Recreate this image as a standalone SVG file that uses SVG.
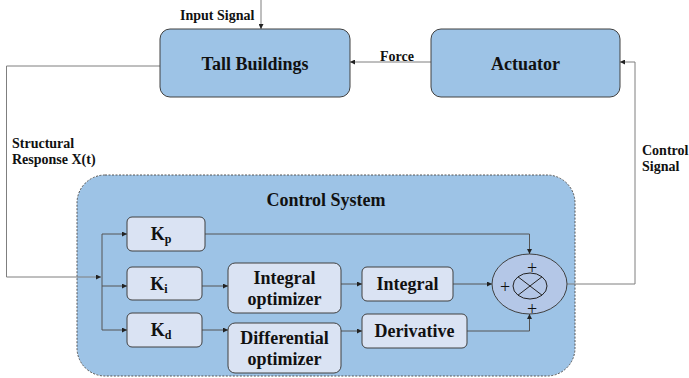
<svg xmlns="http://www.w3.org/2000/svg" width="689" height="378" viewBox="0 0 689 378">
<defs>
<marker id="ah" viewBox="0 0 6 6" refX="6" refY="3" markerWidth="5" markerHeight="5" orient="auto" markerUnits="userSpaceOnUse">
<path d="M0,0 L6,3 L0,6 z" fill="#222"/>
</marker>
<style>
text{fill:#111}
.outer{fill:#9dc3e6;stroke:#404040;stroke-width:1}
.inner{fill:#dae3f3;stroke:#404040;stroke-width:1}
.sys{fill:#9dc3e6;stroke:#555;stroke-width:1;stroke-dasharray:2 1.5}
.c{fill:none;stroke:#7f7f7f;stroke-width:1}
.ci{fill:none;stroke:#555;stroke-width:1}
</style>
</defs>
<rect width="689" height="378" fill="#fff"/>

<g id="control-system">
<rect class="sys" x="77" y="175" width="498" height="201" rx="28"/>
<text font-family="Liberation Serif, serif" font-weight="bold" font-size="18" x="326" y="206" text-anchor="middle">Control System</text>
</g>

<g id="connectors">
<path class="c" d="M261,0 V29" marker-end="url(#ah)"/>
<path class="c" d="M431,62 H350" marker-end="url(#ah)"/>
<path class="c" d="M160,66 H6.5 V277 H101" marker-end="url(#ah)"/>
<path class="ci" d="M102,234 V330"/>
<path class="ci" d="M102,234 H127" marker-end="url(#ah)"/>
<path class="ci" d="M102,286 H127" marker-end="url(#ah)"/>
<path class="ci" d="M102,330 H127" marker-end="url(#ah)"/>
<path class="ci" d="M202,286 H228" marker-end="url(#ah)"/>
<path class="ci" d="M202,330 H228" marker-end="url(#ah)"/>
<path class="ci" d="M341,284 H362" marker-end="url(#ah)"/>
<path class="ci" d="M341,331 H362" marker-end="url(#ah)"/>
<path class="ci" d="M205,234 H529.5 V254" marker-end="url(#ah)"/>
<path class="ci" d="M453,284 H492" marker-end="url(#ah)"/>
<path class="ci" d="M467,331 H529.5 V314" marker-end="url(#ah)"/>
<path class="c" d="M567,284 H635 V62 H620" marker-end="url(#ah)"/>
</g>

<g id="tall-buildings">
<rect class="outer" x="160" y="29" width="190" height="68" rx="10"/>
<text font-family="Liberation Serif, serif" font-weight="bold" font-size="18" x="255" y="70" text-anchor="middle">Tall Buildings</text>
</g>
<g id="actuator">
<rect class="outer" x="431" y="29" width="189" height="68" rx="10"/>
<text font-family="Liberation Serif, serif" font-weight="bold" font-size="18" x="525.5" y="70" text-anchor="middle">Actuator</text>
</g>

<g id="kp">
<rect class="inner" x="127" y="217" width="78" height="34" rx="5"/>
<text font-family="Liberation Serif, serif" font-weight="bold" font-size="18" x="161" y="240" text-anchor="middle">K<tspan font-size="12" dy="3">p</tspan></text>
</g>
<g id="ki">
<rect class="inner" x="127" y="267" width="75" height="33" rx="5"/>
<text font-family="Liberation Serif, serif" font-weight="bold" font-size="18" x="159" y="290" text-anchor="middle">K<tspan font-size="12" dy="3">i</tspan></text>
</g>
<g id="kd">
<rect class="inner" x="127" y="313" width="75" height="34" rx="5"/>
<text font-family="Liberation Serif, serif" font-weight="bold" font-size="18" x="161" y="336" text-anchor="middle">K<tspan font-size="12" dy="3">d</tspan></text>
</g>
<g id="integral-optimizer">
<rect class="inner" x="228" y="263" width="113" height="50" rx="7"/>
<text font-family="Liberation Serif, serif" font-weight="bold" font-size="18" x="284.5" y="284" text-anchor="middle">Integral</text>
<text font-family="Liberation Serif, serif" font-weight="bold" font-size="18" x="284.5" y="305" text-anchor="middle">optimizer</text>
</g>
<g id="differential-optimizer">
<rect class="inner" x="228" y="323" width="113" height="50" rx="7"/>
<text font-family="Liberation Serif, serif" font-weight="bold" font-size="18" x="284.5" y="344" text-anchor="middle">Differential</text>
<text font-family="Liberation Serif, serif" font-weight="bold" font-size="18" x="284.5" y="365" text-anchor="middle">optimizer</text>
</g>
<g id="integral">
<rect class="inner" x="362" y="267" width="91" height="34" rx="5"/>
<text font-family="Liberation Serif, serif" font-weight="bold" font-size="18" x="407.5" y="290" text-anchor="middle">Integral</text>
</g>
<g id="derivative">
<rect class="inner" x="362" y="314" width="105" height="34" rx="5"/>
<text font-family="Liberation Serif, serif" font-weight="bold" font-size="18" x="414.5" y="337" text-anchor="middle">Derivative</text>
</g>
<g id="summing-junction">
<ellipse cx="529.5" cy="284" rx="37.5" ry="30" fill="#b4c7e7" stroke="#404040" stroke-width="1"/>
<ellipse cx="530" cy="286" rx="17" ry="13" fill="none" stroke="#222" stroke-width="1"/>
<path d="M518,276.8 L542,295.2 M542,276.8 L518,295.2" stroke="#222" stroke-width="1"/>
<text font-family="Liberation Serif, serif" font-size="18" x="532" y="274" text-anchor="middle">+</text>
<text font-family="Liberation Serif, serif" font-size="18" x="505" y="293" text-anchor="middle">+</text>
<text font-family="Liberation Serif, serif" font-size="18" x="532" y="315" text-anchor="middle">+</text>
</g>

<g id="labels">
<text font-family="Liberation Serif, serif" font-weight="bold" font-size="14" x="180" y="20">Input Signal</text>
<text font-family="Liberation Serif, serif" font-weight="bold" font-size="14" x="380" y="61">Force</text>
<text font-family="Liberation Serif, serif" font-weight="bold" font-size="14" x="12" y="148">Structural</text>
<text font-family="Liberation Serif, serif" font-weight="bold" font-size="14" x="12" y="164">Response X(t)</text>
<text font-family="Liberation Serif, serif" font-weight="bold" font-size="14" x="642" y="155">Control</text>
<text font-family="Liberation Serif, serif" font-weight="bold" font-size="14" x="642" y="171">Signal</text>
</g>
</svg>
